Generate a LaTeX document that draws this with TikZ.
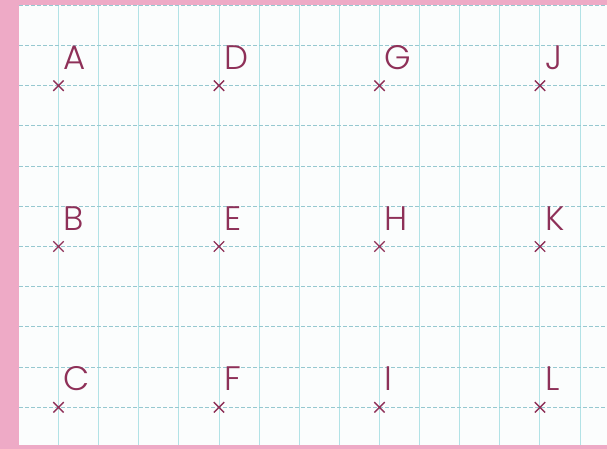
\documentclass[tikz,border=0pt]{standalone}
\usepackage{fontspec}
\newfontfamily\letterfont{Poppins}[UprightFont=* Light]
\usetikzlibrary{positioning, shapes.misc}

\definecolor{pinkedge}{RGB}{238,170,198}
\definecolor{paper}{RGB}{251,253,253}
\definecolor{gridcyan}{RGB}{178,226,230}
\definecolor{gridblue}{RGB}{150,200,208}
\definecolor{markred}{RGB}{142,48,88}

\begin{document}
\begin{tikzpicture}[
  x=1pt, y=-1pt,
  cross/.style  = {cross out, draw=markred, line width=1.4pt,
                   minimum size=9pt, inner sep=0pt},
  letter/.style = {font=\letterfont\fontsize{34}{36}\selectfont,
                   text=markred, inner sep=0pt},
  vline/.style  = {draw=gridcyan, line width=0.9pt},
  hline/.style  = {draw=gridblue, line width=1pt,
                   dash pattern=on 4pt off 2pt},
]

% =============================================================
% Paper sheet on the pink page
% =============================================================
\fill[pinkedge] (0,0) rectangle (607,449);
\fill[paper] (19,5) rectangle (607,445);
\useasboundingbox (0,0) rectangle (607,449);

% squared grid (40 px cells)
\begin{scope}
  \clip (19,5) rectangle (607,445);
  \foreach \k in {0,...,13}
    \draw[vline] ({58.5+40.12*\k},5) -- ({58.5+40.12*\k},445);
  \foreach \k in {-1,...,10}
    \draw[hline] (19,{45.5+40.2*\k}) -- (607,{45.5+40.2*\k});
\end{scope}

% =============================================================
% Marked points (columns every 4 cells, rows every 4 cells)
% =============================================================
\node[cross] (pA) at (58.5,  85.7) {};
\node[cross] (pB) at (58.5, 246.5) {};
\node[cross] (pC) at (58.5, 407.3) {};

\node[cross] (pD) at (219.0,  85.7) {};
\node[cross] (pE) at (219.0, 246.5) {};
\node[cross] (pF) at (219.0, 407.3) {};

\node[cross] (pG) at (379.5,  85.7) {};
\node[cross] (pH) at (379.5, 246.5) {};
\node[cross] (pI) at (379.5, 407.3) {};

\node[cross] (pJ) at (540.0,  85.7) {};
\node[cross] (pK) at (540.0, 246.5) {};
\node[cross] (pL) at (540.0, 407.3) {};

% --- letters, up and right of each cross ---
\node[letter, above right=11pt and 0pt of pA] (A) {A};
\node[letter, above right=11pt and 0pt of pB] (B) {B};
\node[letter, above right=11pt and 0pt of pC] (C) {C};
\node[letter, above right=11pt and 0pt of pD] (D) {D};
\node[letter, above right=11pt and 0pt of pE] (E) {E};
\node[letter, above right=11pt and 0pt of pF] (F) {F};
\node[letter, above right=11pt and 0pt of pG] (G) {G};
\node[letter, above right=11pt and 0pt of pH] (H) {H};
\node[letter, above right=11pt and 0pt of pI] (I) {I};
\node[letter, above right=11pt and 0pt of pJ] (J) {J};
\node[letter, above right=11pt and 0pt of pK] (K) {K};
\node[letter, above right=11pt and 0pt of pL] (L) {L};

\end{tikzpicture}
\end{document}
